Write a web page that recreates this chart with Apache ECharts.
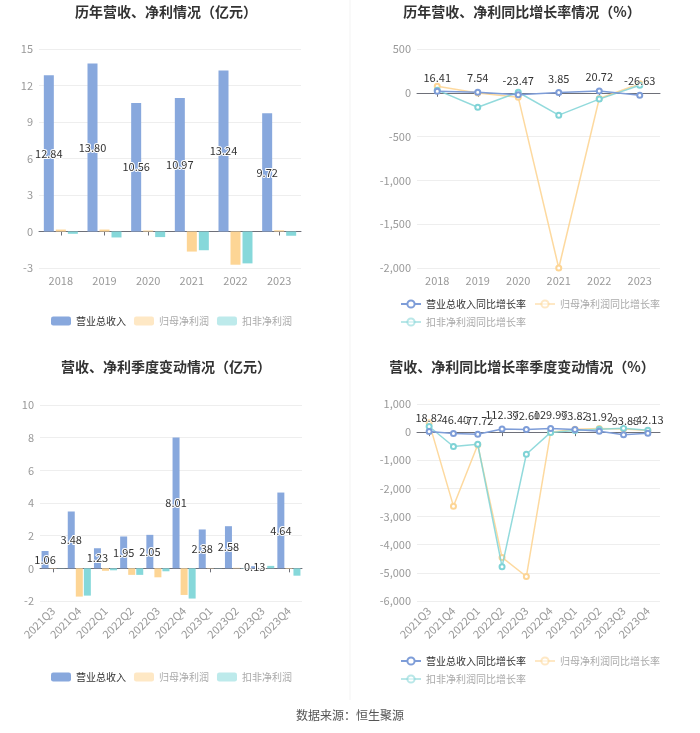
<!DOCTYPE html>
<html>
<head>
<meta charset="utf-8">
<script src="https://cdn.jsdelivr.net/npm/echarts@6/dist/echarts.min.js"></script>
<style>
html,body{margin:0;padding:0;background:#fff;}
#main{width:700px;height:733px;}
</style>
</head>
<body>
<div id="main"></div>
<script>
// ---- data ----
const years = ['2018', '2019', '2020', '2021', '2022', '2023'];
const annualRevenue = [12.84, 13.80, 10.56, 10.97, 13.24, 9.72];
const annualNetProfit = [0.16, 0.16, 0.08, -1.65, -2.73, 0.10];
const annualDeductedProfit = [-0.19, -0.49, -0.46, -1.54, -2.62, -0.35];
const annualRevenueGrowth = [16.41, 7.54, -23.47, 3.85, 20.72, -26.63];
const annualNetProfitGrowth = [75, -3, -52, -2000, -65, 104];
const annualDeductedGrowth = [30, -165, 6, -255, -72, 87];

const quarters = ['2021Q3', '2021Q4', '2022Q1', '2022Q2', '2022Q3', '2022Q4', '2023Q1', '2023Q2', '2023Q3', '2023Q4'];
const qRevenue = [1.06, 3.48, 1.23, 1.95, 2.05, 8.01, 2.38, 2.58, 0.13, 4.64];
const qNetProfit = [0.02, -1.73, -0.15, -0.40, -0.55, -1.63, 0.02, 0.03, 0.01, -0.03];
const qDeductedProfit = [0.01, -1.67, -0.12, -0.40, -0.18, -1.85, 0.01, 0.02, 0.15, -0.45];
const qRevenueGrowth = [18.82, -46.40, -77.72, 112.37, 92.60, 129.97, 93.82, 31.92, -93.88, -42.13];
const qNetProfitGrowth = [330, -2630, -450, -4450, -5130, 0, 105, 130, 110, 60];
const qDeductedGrowth = [200, -510, -430, -4780, -785, -10, 60, 100, 140, 70];

const titles = ['历年营收、净利情况（亿元）', '历年营收、净利同比增长率情况（%）', '营收、净利季度变动情况（亿元）', '营收、净利同比增长率季度变动情况（%）'];
const barNames = ['营业总收入', '归母净利润', '扣非净利润'];
const lineNames = ['营业总收入同比增长率', '归母净利润同比增长率', '扣非净利润同比增长率'];
const source = '数据来源：恒生聚源';

// ---- styles ----
const C_BLUE = '#88a8dd';
const C_ORANGE = '#fdd595';
const C_TEAL = '#86d8da';
const L_BLUE = '#7e9dd8';
const FONT = '"Noto Sans CJK SC", "Noto Sans", sans-serif';

const chart = echarts.init(document.getElementById('main'));

const grids = [
  {left: 39, top: 49, width: 262, height: 219},
  {left: 417, top: 49, width: 243, height: 219},
  {left: 40, top: 405, width: 262, height: 196},
  {left: 417, top: 404, width: 243, height: 197}
];

function xAxesFor(gi, data, rotate) {
  return [
    {type: 'category', gridIndex: gi, data: data, position: 'bottom',
     axisLine: {onZero: true, lineStyle: {color: '#6E7079'}},
     axisTick: {show: true, alignWithLabel: true, length: 4, lineStyle: {color: '#6E7079'}},
     axisLabel: {show: false}, splitLine: {show: false}},
    {type: 'category', gridIndex: gi, data: data, position: 'bottom', offset: 0,
     axisLine: {show: false, onZero: false}, axisTick: {show: false},
     axisLabel: {color: '#999', fontSize: 11, margin: rotate ? 8 : 7, rotate: rotate || 0, interval: 0, fontFamily: FONT},
     splitLine: {show: false}}
  ];
}
function yAxisFor(gi, min, max, interval) {
  return {type: 'value', gridIndex: gi, min: min, max: max, interval: interval,
    axisLine: {show: false}, axisTick: {show: false},
    axisLabel: {color: '#999', fontSize: 11, margin: 6, fontFamily: FONT},
    splitLine: {lineStyle: {color: '#eeeeee'}}};
}

const xAxis = [].concat(xAxesFor(0, years), xAxesFor(1, years), xAxesFor(2, quarters, 45), xAxesFor(3, quarters, 45));
const yAxis = [yAxisFor(0, -3, 15, 3), yAxisFor(1, -2000, 500, 500), yAxisFor(2, -2, 10, 2), yAxisFor(3, -6000, 1000, 1000)];

const fmt2 = p => Number(p.value).toFixed(2);
const barLabel = {show: true, position: 'inside', color: '#333', fontSize: 11, textBorderColor: '#fff', textBorderWidth: 2, fontFamily: FONT, formatter: fmt2};
const lineLabel = {show: true, position: 'top', color: '#333', fontSize: 11, textBorderColor: '#fff', textBorderWidth: 1, fontFamily: FONT, formatter: fmt2};

function bars(gi, rev, np, dp, width, gap) {
  return [
    {name: barNames[0], type: 'bar', xAxisIndex: gi * 2, yAxisIndex: gi, data: rev, barWidth: width, barGap: gap, itemStyle: {color: C_BLUE}, label: barLabel, z: 3},
    {name: barNames[1], type: 'bar', xAxisIndex: gi * 2, yAxisIndex: gi, data: np, barWidth: width, barGap: gap, itemStyle: {color: C_ORANGE}, z: 2},
    {name: barNames[2], type: 'bar', xAxisIndex: gi * 2, yAxisIndex: gi, data: dp, barWidth: width, barGap: gap, itemStyle: {color: C_TEAL}, z: 2}
  ];
}
function lines(gi, rev, np, dp) {
  const base = {type: 'line', xAxisIndex: gi * 2, yAxisIndex: gi, symbol: 'emptyCircle', symbolSize: 5};
  return [
    Object.assign({}, base, {name: lineNames[1], data: np, itemStyle: {color: C_ORANGE}, lineStyle: {width: 1.5, color: C_ORANGE, opacity: 0.9}, z: 2}),
    Object.assign({}, base, {name: lineNames[2], data: dp, itemStyle: {color: '#7fd3d6'}, lineStyle: {width: 1.5, color: '#7fd3d6', opacity: 0.85}, z: 3}),
    Object.assign({}, base, {name: lineNames[0], data: rev, itemStyle: {color: L_BLUE}, lineStyle: {width: 1.5, color: L_BLUE}, label: lineLabel, z: 4})
  ];
}

function legendData(names) {
  return names.map((n, i) => i === 0
    ? {name: n, textStyle: {color: '#333'}}
    : {name: n, textStyle: {color: '#aaa'}, itemStyle: {opacity: 0.55}, lineStyle: {opacity: 0.55}});
}
function legend(names, left, top, width) {
  return {data: legendData(names), left: left, top: top, width: width, padding: 0,
    itemWidth: 20, itemHeight: 9, itemGap: 8,
    textStyle: {fontSize: 10, fontFamily: FONT}};
}

const option = {
  animation: false,
  textStyle: {fontFamily: FONT},
  title: [
    {text: titles[0], left: 166, top: 5, textAlign: 'center', padding: 0, textStyle: {fontSize: 14, fontWeight: 'bold', color: '#333', fontFamily: FONT}},
    {text: titles[1], left: 522, top: 5, textAlign: 'center', padding: 0, textStyle: {fontSize: 14, fontWeight: 'bold', color: '#333', fontFamily: FONT}},
    {text: titles[2], left: 166, top: 360, textAlign: 'center', padding: 0, textStyle: {fontSize: 14, fontWeight: 'bold', color: '#333', fontFamily: FONT}},
    {text: titles[3], left: 522, top: 360, textAlign: 'center', padding: 0, textStyle: {fontSize: 14, fontWeight: 'bold', color: '#333', fontFamily: FONT}}
  ],
  legend: [
    legend(barNames, 51, 316),
    legend(lineNames, 400, 299, 262),
    legend(barNames, 51, 672),
    legend(lineNames, 400, 656, 262)
  ],
  grid: grids,
  xAxis: xAxis,
  yAxis: yAxis,
  series: [].concat(
    bars(0, annualRevenue, annualNetProfit, annualDeductedProfit, 10, '20%'),
    lines(1, annualRevenueGrowth, annualNetProfitGrowth, annualDeductedGrowth),
    bars(2, qRevenue, qNetProfit, qDeductedProfit, 7, '15%'),
    lines(3, qRevenueGrowth, qNetProfitGrowth, qDeductedGrowth)
  ),
  graphic: [
    {type: 'line', shape: {x1: 350, y1: 0, x2: 350, y2: 700}, style: {stroke: '#f3f3f3', lineWidth: 1}, silent: true},
    {type: 'text', left: 'center', top: 709, style: {text: source, fontSize: 12, fill: '#555', fontFamily: FONT}}
  ]
};
chart.setOption(option);
</script>
</body>
</html>
